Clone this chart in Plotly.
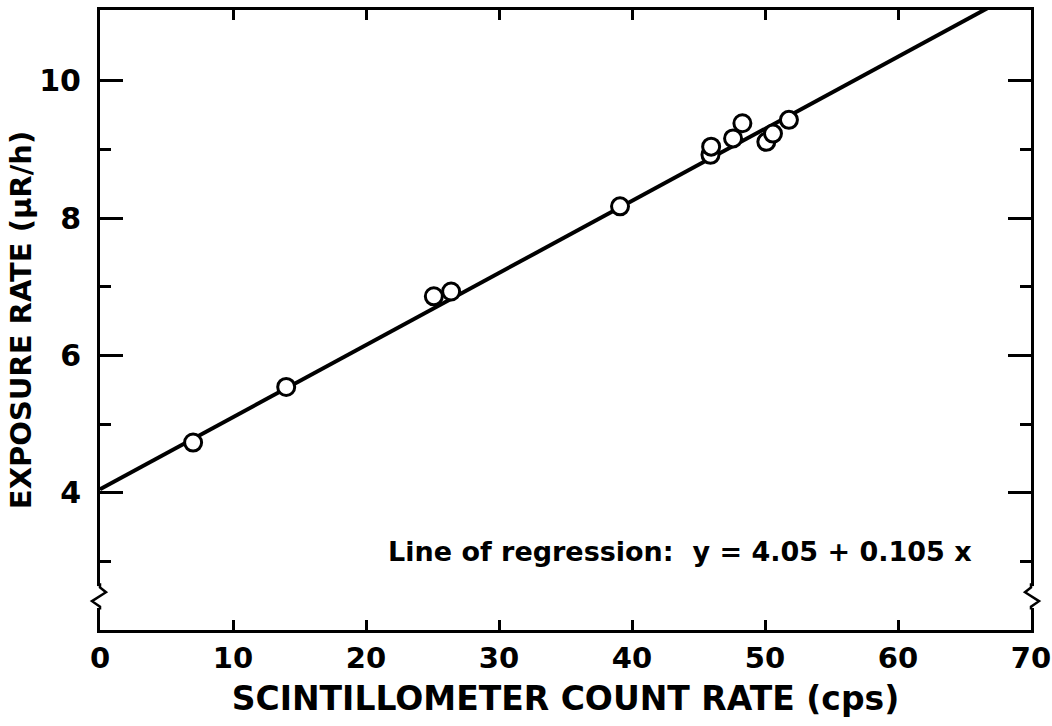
import plotly.graph_objects as go

# Data
count_rate = [7.0, 14.0, 25.1, 26.4, 39.1, 45.9, 45.95, 47.6, 48.3, 50.1, 50.6, 51.8]
exposure = [4.73, 5.54, 6.86, 6.93, 8.17, 8.92, 9.04, 9.16, 9.38, 9.11, 9.23, 9.43]
intercept = 4.05
slope = 0.105
line_x = [0, 70]
line_y = [intercept + slope * v for v in line_x]
x_ticks = [0, 10, 20, 30, 40, 50, 60, 70]
y_ticks = [4, 6, 8, 10]

FONT = "DejaVu Sans"
PW = 931.0  # plot width in px (for break-mark offsets)

fig = go.Figure()
fig.add_trace(go.Scatter(x=line_x, y=line_y, mode="lines",
                         line=dict(color="black", width=4), hoverinfo="skip",
                         showlegend=False))
fig.add_trace(go.Scatter(x=count_rate, y=exposure, mode="markers",
                         marker=dict(size=17, color="white",
                                     line=dict(color="black", width=3)),
                         showlegend=False))

# axis break marks (decorative zigzags)
def zig(x0, s):
    d = lambda px: x0 + s * px / PW
    return (f"M {x0},2.68 L {x0},2.62 L {d(6)},2.55 L {d(-8)},2.42 "
            f"L {x0},2.34 L {x0},2.30")

for x0, s in [(0, 1), (1, -1)]:
    fig.add_shape(type="rect", x0=x0 - 4 / PW, x1=x0 + 4 / PW, y0=2.32, y1=2.64,
                  xref="paper", yref="y", line=dict(width=0), fillcolor="white",
                  layer="above")
    fig.add_shape(type="path", path=zig(x0, s), xref="paper", yref="y",
                  line=dict(color="black", width=2.5), layer="above")

fig.add_annotation(x=21.5, y=3.14, xref="x", yref="y",
                   text="Line of regression:  y = 4.05 + 0.105 x",
                   showarrow=False, xanchor="left",
                   font=dict(family=FONT, size=27, color="black", weight="bold"))

fig.update_xaxes(range=[0, 70], tickvals=x_ticks, ticktext=[str(v) for v in x_ticks],
                 ticks="inside", ticklen=10, tickwidth=2.5, tickcolor="black",
                 showline=True, linecolor="black", linewidth=3, mirror="ticks",
                 showgrid=False, zeroline=False, automargin=False,
                 ticklabeloverflow="allow",
                 tickfont=dict(family=FONT, size=29, color="black", weight="bold"),
                 title=dict(text="SCINTILLOMETER COUNT RATE (cps)",
                            font=dict(family=FONT, size=33, color="black", weight="bold"),
                            standoff=14))
fig.update_yaxes(range=[2, 11.03], tickvals=y_ticks, ticktext=[str(v) for v in y_ticks],
                 ticks="inside", ticklen=23, tickwidth=2.5, tickcolor="black",
                 minor=dict(tickvals=[3, 5, 7, 9], ticks="inside", ticklen=11,
                            tickwidth=2.5, tickcolor="black"),
                 showline=True, linecolor="black", linewidth=3, mirror="ticks",
                 showgrid=False, zeroline=False, automargin=False,
                 ticklabelstandoff=10,
                 tickfont=dict(family=FONT, size=30, color="black", weight="bold"),
                 title=dict(text="EXPOSURE RATE (μR/h)",
                            font=dict(family=FONT, size=29, color="black", weight="bold"),
                            standoff=0))

fig.update_layout(width=1052, height=726, margin=dict(l=100, r=21, t=10, b=96),
                  plot_bgcolor="white", paper_bgcolor="white")

fig.write_html("out.html")
